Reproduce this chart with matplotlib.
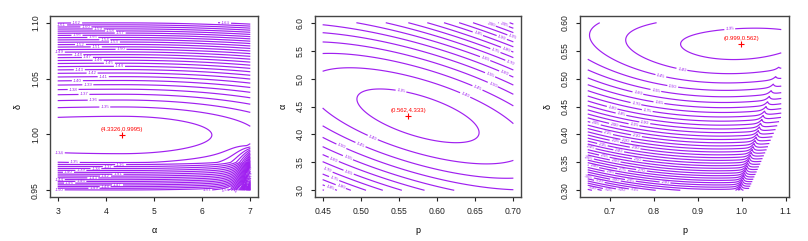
import numpy as np
import matplotlib
matplotlib.use('Agg')
import matplotlib.pyplot as plt

plt.rcParams['font.family'] = ['Liberation Sans', 'DejaVu Sans']
plt.rcParams['contour.negative_linestyle'] = 'solid'

PURPLE = '#A020F0'
W, H = 808, 241

# ---------------- data ----------------
# Panel 1: (alpha, delta)
alpha_range1 = [3.0, 7.0]
delta_range1 = [0.95, 1.10]
opt1 = [4.3326, 0.9995]
opt1_label = "(4.3326,0.9995)"
min1 = 133.2
levels1 = list(range(134, 200, 1))
xticks1 = [3, 4, 5, 6, 7]
xticklabels1 = ["3", "4", "5", "6", "7"]
yticks1 = [0.95, 1.00, 1.05, 1.10]
yticklabels1 = ["0.95", "1.00", "1.05", "1.10"]

# Panel 2: (p, alpha)
p_range2 = [0.45, 0.70]
alpha_range2 = [3.0, 6.0]
opt2 = [0.562, 4.333]
opt2_label = "(0.562,4.333)"
min2 = 132.73
levels2 = list(range(135, 300, 5))
xticks2 = [0.45, 0.50, 0.55, 0.60, 0.65, 0.70]
xticklabels2 = ["0.45", "0.50", "0.55", "0.60", "0.65", "0.70"]
yticks2 = [3.0, 3.5, 4.0, 4.5, 5.0, 5.5, 6.0]
yticklabels2 = ["3.0", "3.5", "4.0", "4.5", "5.0", "5.5", "6.0"]

# Panel 3: (p, delta)
p_range3 = [0.65, 1.09]
delta_range3 = [0.30, 0.60]
opt3 = [0.999, 0.562]
opt3_label = "(0.999,0.562)"
min3 = 133.1
levels3 = list(range(135, 400, 5))
xticks3 = [0.7, 0.8, 0.9, 1.0, 1.1]
xticklabels3 = ["0.7", "0.8", "0.9", "1.0", "1.1"]
yticks3 = [0.30, 0.35, 0.40, 0.45, 0.50, 0.55, 0.60]
yticklabels3 = ["0.30", "0.35", "0.40", "0.45", "0.50", "0.55", "0.60"]

# ---------------- surfaces (profile log-likelihood shapes) ----------------
def surf1(a, d):
    da = a - opt1[0]
    dd = d - opt1[1]
    g = np.where(da > 0, 0.229 * da ** 2, 0.05 * da ** 2)
    f = min1 + 2860 * dd ** 2 + g + 400 * np.maximum(0, 0.975 - d)
    f += 700 * np.exp(6.0 * (a - 7.0)) * np.maximum(0, 0.99 - d)
    return f

def surf2(p, a):
    dp = p - (opt2[0] + 0.013)
    da = a - opt2[1]
    return min2 + 16.1 * (36.06 * dp ** 2 + 7.5 * dp * da + da ** 2)

def surf3(p, d):
    dp = p - opt3[0]
    shift = 0.033 * dp + 0.228 * dp ** 2
    dd = d - opt3[1] - shift
    f = min3 + 100 * dp ** 2 + 2480 * dd ** 2
    pr = 1.014 + 0.41 * (d - 0.349)
    h = np.maximum(0, 45 * (0.54 - d))
    f = f + h * np.exp(-np.abs(p - pr) / 0.005)
    bound = 1.019 + 0.568 * (d - 0.306)
    f = np.where(p > bound, np.nan, f)
    return f


def make_axes(box):
    x0, y0, x1, y1 = box
    return fig.add_axes([x0 / W, 1 - y1 / H, (x1 - x0) / W, (y1 - y0) / H])


def style(ax, xr, yr, xt, xtl, yt, ytl, xlabel, ylabel):
    ex = 0.04 * (xr[1] - xr[0])
    ey = 0.04 * (yr[1] - yr[0])
    ax.set_xlim(xr[0] - ex, xr[1] + ex)
    ax.set_ylim(yr[0] - ey, yr[1] + ey)
    ax.set_xticks(xt)
    ax.set_xticklabels(xtl)
    ax.set_yticks(yt)
    ax.set_yticklabels(ytl, rotation=90, va='center')
    ax.tick_params(direction='out', length=3.2, width=0.8, pad=4,
                   labelsize=6.2, colors='#222222')
    for s in ax.spines.values():
        s.set_color('#444444')
        s.set_linewidth(1.0)
    ax.set_xlabel(xlabel, fontsize=6.5, labelpad=7)
    ax.set_ylabel(ylabel, fontsize=6.5, labelpad=6)


def draw(ax, X, Y, F, levels, opt, label, dy):
    Z = -F
    lv = sorted([-v for v in levels])
    cs = ax.contour(X, Y, Z, levels=lv, colors=PURPLE, linewidths=0.85,
                    linestyles='solid')
    ax.clabel(cs, fontsize=3.2, fmt=lambda v: f"{v:.0f}", inline=True,
              inline_spacing=1.5, colors=PURPLE)
    ax.plot([opt[0]], [opt[1]], marker='+', color='red', markersize=4.5,
            markeredgewidth=0.8, linestyle='none')
    ax.text(opt[0], opt[1] + dy, label, color='red', fontsize=4.3,
            ha='center', va='bottom')


fig = plt.figure(figsize=(W / 100, H / 100), dpi=100)

# Panel 1
ax1 = make_axes((50, 16, 258, 197))
a = np.linspace(alpha_range1[0], alpha_range1[1], 500)
d = np.linspace(delta_range1[0], delta_range1[1], 500)
A, D = np.meshgrid(a, d)
draw(ax1, A, D, surf1(A, D), levels1, opt1, opt1_label, 0.0025)
style(ax1, alpha_range1, delta_range1, xticks1, xticklabels1, yticks1,
      yticklabels1, "α", "δ")

# Panel 2
ax2 = make_axes((315, 16, 521, 197))
p = np.linspace(p_range2[0], p_range2[1], 500)
a = np.linspace(alpha_range2[0], alpha_range2[1], 500)
P, A = np.meshgrid(p, a)
draw(ax2, P, A, surf2(P, A), levels2, opt2, opt2_label, 0.05)
style(ax2, p_range2, alpha_range2, xticks2, xticklabels2, yticks2,
      yticklabels2, "p", "α")

# Panel 3
ax3 = make_axes((580, 16, 789, 197))
p = np.linspace(p_range3[0], p_range3[1], 700)
d = np.linspace(delta_range3[0], delta_range3[1], 700)
P, D = np.meshgrid(p, d)
draw(ax3, P, D, surf3(P, D), levels3, opt3, opt3_label, 0.005)
style(ax3, p_range3, delta_range3, xticks3, xticklabels3, yticks3,
      yticklabels3, "p", "δ")

fig.savefig("out.png", dpi=100)
